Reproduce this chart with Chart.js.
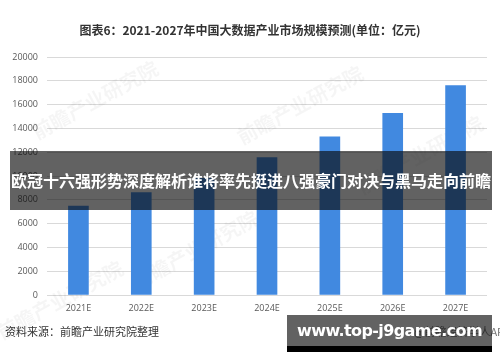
<!DOCTYPE html>
<html>
<head>
<meta charset="utf-8">
<script src="https://cdn.jsdelivr.net/npm/chart.js@4/dist/chart.umd.min.js"></script>
<style>
  html, body { margin: 0; padding: 0; background: #fff; }
  #wrap { position: relative; width: 500px; height: 362px; overflow: hidden; font-family: "Noto Sans CJK SC", "Noto Sans", sans-serif; }
  #chart { position: absolute; left: 0; top: 0; }
  .title { position: absolute; left: 0; width: 500px; top: 21px; text-align: center; font-size: 12px; font-weight: bold; color: #333; line-height: 18px; }
  .source { position: absolute; left: 5px; top: 323px; font-size: 11px; color: #333; line-height: 16px; }
  .app { position: absolute; left: 414px; top: 323px; font-size: 11px; color: #777; line-height: 16px; white-space: nowrap; }
  .banner { position: absolute; left: 10px; top: 151px; width: 482px; height: 59px; background: rgba(10,10,10,0.64); color: #fff; font-size: 16px; font-weight: bold; line-height: 59px; text-align: center; white-space: nowrap; }
  .site { position: absolute; left: 287px; top: 315px; width: 205px; height: 31px; background: rgba(10,10,10,0.64); color: #fff; font-family: "DejaVu Sans", sans-serif; font-weight: bold; font-size: 16px; letter-spacing: -0.6px; line-height: 32px; text-align: center; white-space: nowrap; }
  .site-bar { position: absolute; left: 287px; top: 346px; width: 205px; height: 6px; background: #000; }
</style>
</head>
<body>
<div id="wrap">
  <canvas id="chart" width="500" height="362"></canvas>
  <div class="title">图表6：2021-2027年中国大数据产业市场规模预测(单位：亿元)</div>
  <div class="source">资料来源：前瞻产业研究院整理</div>
  <div class="app">@前瞻经济学人APP</div>
  <div class="banner">欧冠十六强形势深度解析谁将率先挺进八强豪门对决与黑马走向前瞻</div>
  <div class="site">www.top-j9game.com</div>
  <div class="site-bar"></div>
</div>
<script>
// 中国大数据产业市场规模预测 (亿元)
var years = ['2021E', '2022E', '2023E', '2024E', '2025E', '2026E', '2027E'];
var marketSize = [7480, 8600, 9800, 11540, 13300, 15270, 17590];
var yMax = 20000;
var yStep = 2000;

// faint watermark text behind the bars
var watermarks = [
  { x: 95, y: 100 }, { x: 300, y: 105 }, { x: 195, y: 250 },
  { x: 420, y: 155 }, { x: 60, y: 300 }
];

var watermarkPlugin = {
  id: 'watermark',
  beforeDatasetsDraw: function(chart) {
    var ctx = chart.ctx;
    ctx.save();
    ctx.fillStyle = 'rgba(0,0,0,0.04)';
    ctx.font = 'bold 20px "Noto Sans CJK SC"';
    ctx.textAlign = 'center';
    ctx.textBaseline = 'middle';
    watermarks.forEach(function(w) {
      ctx.save();
      ctx.translate(w.x, w.y);
      ctx.rotate(-0.5);
      ctx.fillText('前瞻产业研究院', 0, 0);
      ctx.restore();
    });
    ctx.restore();
  }
};

var ctx = document.getElementById('chart').getContext('2d');
window.myBar = new Chart(ctx, {
  type: 'bar',
  data: {
    labels: years,
    datasets: [{
      data: marketSize,
      backgroundColor: 'rgb(65, 137, 224)',
      barThickness: 20
    }]
  },
  options: {
    responsive: false,
    animation: false,
    layout: { padding: { top: 57, right: 13, left: 0, bottom: 0 } },
    plugins: {
      legend: { display: false },
      tooltip: { enabled: false }
    },
    scales: {
      x: {
        grid: { display: false, drawTicks: false },
        border: { display: false },
        ticks: { color: '#595959', font: { size: 9, family: '"Open Sans"' }, padding: 8 },
        afterFit: function(s) { s.height = 67; }
      },
      y: {
        min: 0,
        max: yMax,
        grid: { color: '#d9d9d9', drawTicks: false },
        border: { display: false },
        ticks: {
          stepSize: yStep,
          color: '#595959',
          font: { size: 9, family: '"Open Sans"' },
          padding: 9,
          callback: function(v) { return String(v); }
        },
        afterFit: function(s) { s.width = 47; }
      }
    }
  },
  plugins: [watermarkPlugin]
});
</script>
</body>
</html>
